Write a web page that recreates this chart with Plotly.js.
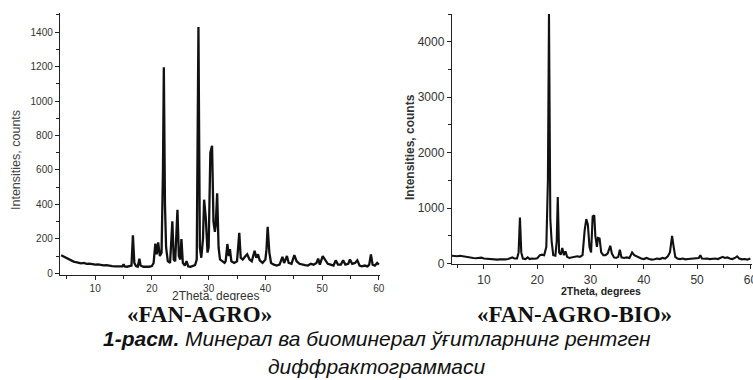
<!DOCTYPE html>
<html>
<head>
<meta charset="utf-8">
<script src="https://cdn.plot.ly/plotly-3.0.1.min.js"></script>
<style>html,body{margin:0;padding:0;background:#fff;}#chart{width:753px;height:380px;}</style>
</head>
<body>
<div id="chart"></div>
<script>
// «FAN-AGRO» diffractogram: 2Theta (degrees) and intensity (counts)
const tthAgro = [4.0,4.3,4.6,5.0,5.4,5.8,6.2,6.6,7.0,7.5,8.0,8.5,9.0,9.5,10.0,10.5,11.0,11.5,12.0,12.5,13.0,13.5,14.0,14.5,14.8,15.0,15.2,15.6,16.0,16.4,16.65,16.9,17.2,17.5,17.8,18.0,18.5,19.0,19.5,20.0,20.3,20.6,20.85,21.1,21.4,21.7,21.95,22.1,22.3,22.5,22.8,23.2,23.6,23.85,24.1,24.5,24.75,25.0,25.2,25.45,25.8,26.1,26.4,26.8,27.2,27.6,27.9,28.2,28.45,28.7,29.0,29.2,29.5,29.8,30.0,30.3,30.6,30.85,31.1,31.25,31.5,31.75,32.0,32.4,32.8,33.0,33.3,33.55,33.75,34.0,34.5,35.0,35.4,35.65,36.0,36.5,36.8,37.2,37.6,38.1,38.4,38.7,39.0,39.5,40.0,40.2,40.4,40.7,41.0,41.5,42.0,42.5,43.0,43.3,43.8,44.1,44.6,45.1,45.5,46.0,46.5,47.0,47.5,48.0,48.5,49.0,49.3,49.6,50.1,50.5,51.0,51.5,52.0,52.4,52.8,53.3,53.7,54.1,54.6,54.9,55.3,55.8,56.2,56.6,57.0,57.5,58.0,58.3,58.6,58.9,59.3,59.7,60.0];
const intAgro = [105,100,92,85,78,72,68,64,62,58,60,55,56,52,50,52,48,46,47,43,42,40,41,38,40,52,40,38,40,45,221,60,42,38,85,45,38,36,38,42,60,172,110,180,100,120,600,1196,400,150,70,60,302,80,70,369,100,80,198,60,45,70,40,38,42,48,80,1430,150,90,200,427,320,120,150,700,740,300,240,280,465,150,80,70,60,70,170,100,140,70,60,70,235,90,80,100,110,80,70,130,90,110,75,60,80,140,270,120,60,50,45,50,95,60,100,60,55,105,70,55,50,48,45,55,50,60,85,50,100,80,55,50,45,75,50,50,75,50,55,80,55,60,75,45,40,45,40,50,110,50,45,60,50];

// «FAN-AGRO-BIO» diffractogram
const tthBio = [4.0,4.5,5.0,5.5,6.0,6.5,7.0,7.5,8.0,8.5,9.0,9.5,10.0,10.5,11.0,11.5,12.0,12.5,13.0,13.5,14.0,14.5,15.0,15.3,15.7,16.2,16.5,16.75,17.0,17.3,17.8,18.2,18.6,19.0,19.5,20.0,20.5,20.9,21.3,21.7,22.0,22.2,22.45,22.7,23.0,23.4,23.65,23.85,24.1,24.4,24.7,25.0,25.3,25.6,26.0,26.5,27.0,27.5,28.0,28.5,28.9,29.2,29.5,29.8,30.1,30.4,30.7,30.9,31.2,31.4,31.7,32.0,32.4,32.8,33.2,33.7,34.0,34.4,34.8,35.2,35.5,35.8,36.3,36.8,37.3,37.8,38.2,38.6,39.0,39.5,40.0,40.5,41.0,41.5,42.0,42.5,43.0,43.5,44.0,44.5,44.9,45.3,45.6,45.9,46.3,46.8,47.3,47.8,48.3,48.8,49.3,49.8,50.3,50.6,50.9,51.4,51.9,52.4,52.9,53.4,53.9,54.4,54.8,55.2,55.7,56.1,56.6,57.1,57.5,57.9,58.4,58.9,59.4,60.0];
const intBio = [140,135,130,140,130,120,115,105,100,95,100,105,90,85,80,75,80,70,75,70,75,80,95,110,90,90,200,830,200,90,80,110,80,90,85,95,150,160,150,300,1500,4500,800,400,150,140,400,1200,200,160,280,150,220,120,100,110,120,130,120,150,600,800,700,300,200,850,870,500,300,460,450,200,150,150,180,320,180,110,100,120,250,110,100,110,100,200,150,130,120,90,80,100,80,70,75,90,80,100,90,130,200,500,300,120,90,80,90,75,80,85,80,90,100,150,90,85,90,80,85,90,80,100,120,100,110,90,80,100,130,90,75,80,70,90];

// Text
const panelNames = ['«FAN-AGRO»', '«FAN-AGRO-BIO»'];
const xTitle = '2Theta, degrees';
const yTitle = 'Intensities, counts';
const captionLead = '1-расм.';
const captionRest = ' Минерал ва биоминерал ўғитларнинг рентген';
const captionLine2 = 'диффрактограммаси';

const W = 753, H = 380;
const px = v => v / W;
const py = v => 1 - v / H;

const traces = [
  {x: tthAgro, y: intAgro, type: 'scatter', mode: 'lines', line: {color: '#111111', width: 2.3}, xaxis: 'x', yaxis: 'y', hoverinfo: 'skip'},
  {x: tthBio, y: intBio, type: 'scatter', mode: 'lines', line: {color: '#111111', width: 2.1}, xaxis: 'x2', yaxis: 'y2', hoverinfo: 'skip'}
];

const sans = 'Liberation Sans, Arial, sans-serif';
function axis(extra) {
  return Object.assign({
    showline: true, linecolor: '#222', linewidth: 1.2,
    ticks: 'outside', ticklen: 4, tickwidth: 1, tickcolor: '#222',
    showgrid: false, zeroline: false, ticklabeloverflow: 'allow',
    tickfont: {family: sans, size: 10, color: '#333'}
  }, extra);
}

const layout = {
  width: W, height: H,
  margin: {l: 0, r: 0, t: 0, b: 0},
  paper_bgcolor: '#fff', plot_bgcolor: 'rgba(0,0,0,0)',
  showlegend: false,
  xaxis: axis({domain: [px(60), px(380)], anchor: 'y', range: [3.8, 60.2], tick0: 0, dtick: 10,
    minor: {ticks: 'outside', ticklen: 2.5, dtick: 5, tickcolor: '#222'}}),
  yaxis: axis({domain: [py(275), py(13)], anchor: 'x', range: [-10, 1511], tick0: 0, dtick: 200,
    minor: {ticks: 'outside', ticklen: 2.5, dtick: 100, tickcolor: '#222'}}),
  xaxis2: axis({domain: [px(452), px(752)], anchor: 'y2', range: [4, 60.3], tick0: 0, dtick: 10,
    tickfont: {family: sans, size: 12, color: '#333'},
    minor: {ticks: 'outside', ticklen: 2.5, dtick: 5, tickcolor: '#222'}}),
  yaxis2: axis({domain: [py(264), py(14)], anchor: 'x2', range: [-9, 4500], tick0: 0, dtick: 1000,
    tickfont: {family: sans, size: 12, color: '#333'},
    minor: {ticks: 'outside', ticklen: 2.5, dtick: 500, tickcolor: '#222'}}),
  annotations: [
    {text: yTitle, xref: 'paper', yref: 'paper', x: px(16), y: py(160), textangle: -90, showarrow: false,
     xanchor: 'center', yanchor: 'middle', font: {family: sans, size: 12.5, color: '#444'}},
    {text: xTitle, xref: 'paper', yref: 'paper', x: px(215), y: py(296), showarrow: false,
     xanchor: 'center', yanchor: 'middle', font: {family: sans, size: 12, color: '#333'}},
    {text: '<b>' + yTitle + '</b>', xref: 'paper', yref: 'paper', x: px(410), y: py(147), textangle: -90, showarrow: false,
     xanchor: 'center', yanchor: 'middle', font: {family: sans, size: 12, color: '#333'}},
    {text: '<b>' + xTitle + '</b>', xref: 'paper', yref: 'paper', x: px(601), y: py(291), showarrow: false,
     xanchor: 'center', yanchor: 'middle', font: {family: sans, size: 10.5, color: '#222'}},
    {text: '<b>' + panelNames[0] + '</b>', xref: 'paper', yref: 'paper', x: px(199), y: py(314), showarrow: false,
     xanchor: 'center', yanchor: 'middle', bgcolor: '#fff', font: {family: 'Liberation Serif, Times New Roman, serif', size: 23, color: '#111'}},
    {text: '<b>' + panelNames[1] + '</b>', xref: 'paper', yref: 'paper', x: px(574), y: py(314), showarrow: false,
     xanchor: 'center', yanchor: 'middle', font: {family: 'Liberation Serif, Times New Roman, serif', size: 23, color: '#111'}},
    {text: '<b><i>' + captionLead + '</i></b><i>' + captionRest + '</i>', xref: 'paper', yref: 'paper', x: 0.5, y: py(338), showarrow: false,
     xanchor: 'center', yanchor: 'middle', font: {family: sans, size: 21, color: '#111'}},
    {text: '<i>' + captionLine2 + '</i>', xref: 'paper', yref: 'paper', x: 0.5, y: py(366), showarrow: false,
     xanchor: 'center', yanchor: 'middle', font: {family: sans, size: 21, color: '#111'}}
  ]
};

Plotly.newPlot('chart', traces, layout, {staticPlot: true, displayModeBar: false});
</script>
</body>
</html>
